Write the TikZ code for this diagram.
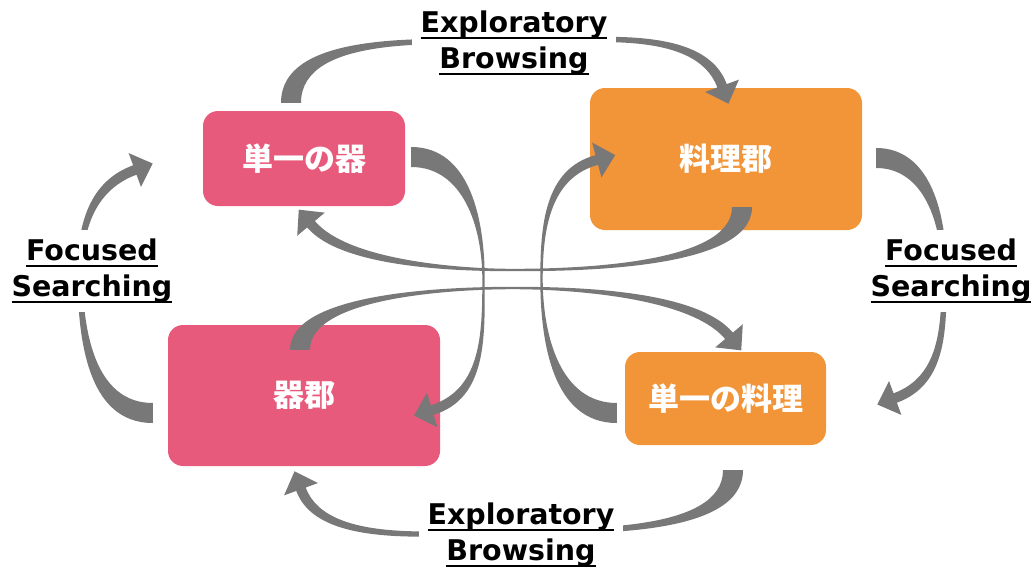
\documentclass[tikz,border=0pt]{standalone}
\usepackage{fontspec}
\setmainfont{DejaVu Sans}
\newfontfamily\jpfont{Noto Sans CJK JP}
\usetikzlibrary{calc}
\definecolor{pinkbox}{HTML}{E85A7C}
\definecolor{orangebox}{HTML}{F29438}
\definecolor{arrowgray}{HTML}{787878}
\newcommand{\undl}[1]{\setbox0=\hbox{#1}\rlap{\rule[-6pt]{\wd0}{2pt}}\box0}
\def\baTailW{10}\def\baMidW{1.2}\def\baShaftW{5}\def\baHeadW{18}\def\baHeadL{19}
% tail, tail angle, middle, middle angle, head base, head angle
\newcommand{\bentarrow}[7][]{%
  \pgfmathsetmacro{\baTL}{#3+90}\pgfmathsetmacro{\baTR}{#3-90}%
  \pgfmathsetmacro{\baML}{#5+90}\pgfmathsetmacro{\baMR}{#5-90}\pgfmathsetmacro{\baMB}{#5+180}%
  \pgfmathsetmacro{\baHL}{#7+90}\pgfmathsetmacro{\baHR}{#7-90}\pgfmathsetmacro{\baHB}{#7+180}%
  \fill[bent arrow,#1] ($(#2)+(\baTL:\baTailW)$) to[out=#3,in=\baMB] ($(#4)+(\baML:\baMidW)$)
    to[out=#5,in=\baHB] ($(#6)+(\baHL:\baShaftW)$) -- ($(#6)+(\baHL:\baHeadW)$)
    -- ($(#6)+(#7:\baHeadL)$) -- ($(#6)+(\baHR:\baHeadW)$) -- ($(#6)+(\baHR:\baShaftW)$)
    to[out=\baHB,in=#5] ($(#4)+(\baMR:\baMidW)$) to[out=\baMB,in=#3] ($(#2)+(\baTR:\baTailW)$) -- cycle;}

\begin{document}
\begin{tikzpicture}[x=1pt,y=1pt,
    box/.style={rectangle,rounded corners=15pt,inner sep=0pt,text=white,font=\jpfont\bfseries\fontsize{31}{31}\selectfont},
    tag/.style={fill=white,inner sep=9pt,align=center,font=\bfseries\fontsize{28.5}{36}\selectfont},
    bent arrow/.style={fill=arrowgray}]
\useasboundingbox (0,0) rectangle (1035,-571);

% the four boxes
\node[box,fill=pinkbox,minimum width=202,minimum height=95]    (tan) at (304,-158.5)   {単一の器};
\node[box,fill=orangebox,minimum width=272,minimum height=142] (ryg) at (726,-159)     {料理郡};
\node[box,fill=pinkbox,minimum width=272,minimum height=141]   (kig) at (304,-395.5)   {器郡};
\node[box,fill=orangebox,minimum width=201,minimum height=93]  (ryt) at (725.5,-398.5) {単一の料理};

% ends of the arrows
\coordinate (topT) at ([xshift=-13,yshift=8]tan.north);
\coordinate (topM) at (514,-42);
\coordinate (topH) at ([xshift=-4,yshift=2]ryg.north);
\coordinate (rgtT) at ([xshift=14,yshift=1]ryg.east);
\coordinate (rgtM) at (944,-271);
\coordinate (rgtH) at ([xshift=69,yshift=0.5]ryt.east);
\coordinate (botT) at ([xshift=7.5,yshift=-25]ryt.south);
\coordinate (botM) at (521,-531);
\coordinate (botH) at ([xshift=-3,yshift=-23]kig.south);
\coordinate (lftT) at ([xshift=-15,yshift=-17.5]kig.west);
\coordinate (lftM) at (80,-271);
\coordinate (lftH) at ([xshift=-68,yshift=-11.5]tan.west);
\coordinate (hub) at (512.5,-279);
\coordinate (aT) at ([xshift=6,yshift=1.5]tan.east);
\coordinate (aM) at ($(hub)+(-29,0)$);
\coordinate (aH) at ([xshift=-8,yshift=-14.5]kig.east);
\coordinate (bT) at ([xshift=-8,yshift=-14.5]ryt.west);
\coordinate (bM) at ($(hub)+(29,0)$);
\coordinate (bH) at ([xshift=7,yshift=-1]ryg.west);
\coordinate (cT) at ([xshift=16,yshift=23]ryg.south);
\coordinate (cM) at ($(hub)+(0,9)$);
\coordinate (cH) at ([xshift=7,yshift=-18]tan.south);
\coordinate (dT) at ([xshift=-4,yshift=-25]kig.north);
\coordinate (dM) at ($(hub)+(0,-9)$);
\coordinate (dH) at ([xshift=3.5,yshift=16]ryt.north);

% outer ring
\def\baMidW{2.5}
\bentarrow[looseness=0.8]{topT}{90}{topM}{0}{topH}{-70}
\bentarrow{rgtT}{0}{rgtM}{-90}{rgtH}{200}
\bentarrow[looseness=0.75]{botT}{-90}{botM}{180}{botH}{110}
\bentarrow{lftT}{180}{lftM}{90}{lftH}{20}

% crossing arrows
\def\baMidW{1.2}
\bentarrow{aT}{0}{aM}{-90}{aH}{197}
\bentarrow{bT}{180}{bM}{90}{bH}{15}
\bentarrow[looseness=0.65]{cT}{-90}{cM}{180}{cH}{130}
\bentarrow[looseness=0.65]{dT}{90}{dM}{0}{dH}{-50}

% labels
\node[tag] (lblTop)   at (514,-43)  {\undl{Exploratory}\\\undl{Browsing}};
\node[tag] (lblBot)   at (521,-535) {\undl{Exploratory}\\\undl{Browsing}};
\node[tag] (lblLeft)  at (92,-271)  {\undl{Focused}\\\undl{Searching}};
\node[tag] (lblRight) at (951,-271) {\undl{Focused}\\\undl{Searching}};
\end{tikzpicture}
\end{document}
